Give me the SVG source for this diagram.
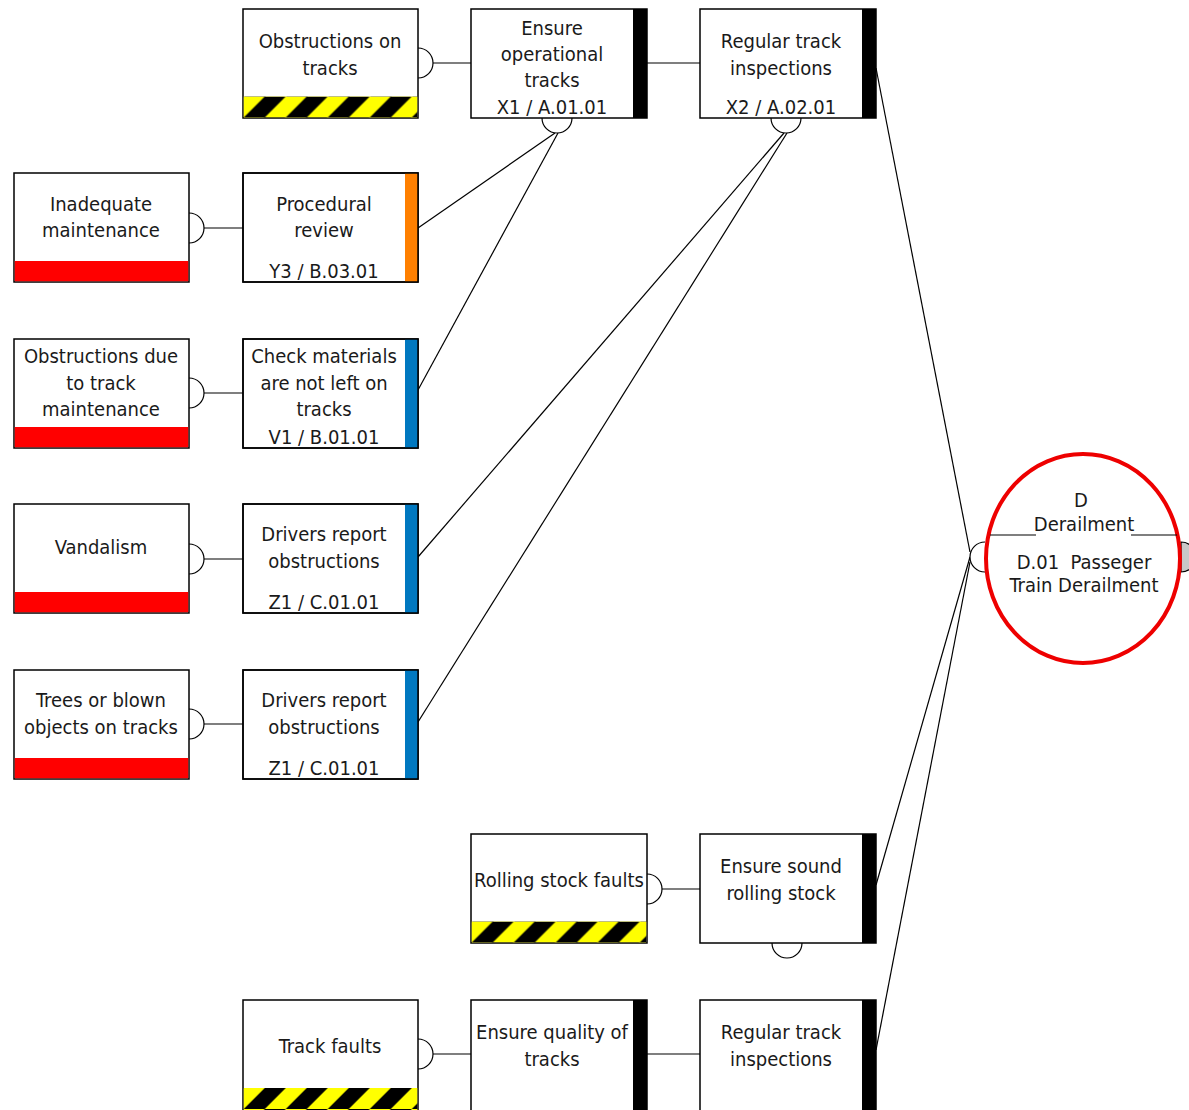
<svg xmlns="http://www.w3.org/2000/svg" width="1189" height="1110" viewBox="0 0 1189 1110">
<defs>
<pattern id="hazard" patternUnits="userSpaceOnUse" x="0" y="0" width="42" height="21">
<rect x="0" y="0" width="42" height="21" fill="#ffff00"/>
<polygon points="0,21 21,0 42,0 21,21" fill="#000000"/>
</pattern>
<style>
.box{fill:#fff;stroke:#000;stroke-width:1.5}
.t{font-family:"DejaVu Sans Condensed","DejaVu Sans",sans-serif;font-size:20px;fill:#1a1a1a;text-anchor:middle}
.ln{fill:none;stroke:#000;stroke-width:1.2}
.semi{fill:#fff;stroke:#000;stroke-width:1.2}
.red{fill:#ff0000}
.bk{fill:#000}
.hz{fill:url(#hazard)}
</style>
</defs>
<rect width="1189" height="1110" fill="#fff"/>
<g id="connectors">
<line class="ln" x1="433" y1="63" x2="471" y2="63"/>
<line class="ln" x1="647" y1="63" x2="700" y2="63"/>
<line class="ln" x1="204" y1="228" x2="243" y2="228"/>
<line class="ln" x1="204" y1="393" x2="243" y2="393"/>
<line class="ln" x1="204" y1="559" x2="243" y2="559"/>
<line class="ln" x1="204" y1="724" x2="243" y2="724"/>
<line class="ln" x1="662" y1="889" x2="700" y2="889"/>
<line class="ln" x1="433" y1="1054" x2="471" y2="1054"/>
<line class="ln" x1="647" y1="1054" x2="700" y2="1054"/>
<line class="ln" x1="418" y1="228" x2="555" y2="133"/>
<line class="ln" x1="418" y1="390" x2="558" y2="133"/>
<line class="ln" x1="418" y1="557" x2="784" y2="133"/>
<line class="ln" x1="418" y1="722" x2="787" y2="133"/>
<line class="ln" x1="876" y1="68" x2="970" y2="552"/>
<line class="ln" x1="876" y1="885" x2="970" y2="557"/>
<line class="ln" x1="876" y1="1050" x2="970" y2="562"/>
</g>
<g id="semicircles">
<path class="semi" d="M418 48 A15 15 0 0 1 418 78"/>
<path class="semi" d="M189 213 A15 15 0 0 1 189 243"/>
<path class="semi" d="M189 378 A15 15 0 0 1 189 408"/>
<path class="semi" d="M189 544 A15 15 0 0 1 189 574"/>
<path class="semi" d="M189 709 A15 15 0 0 1 189 739"/>
<path class="semi" d="M647 874 A15 15 0 0 1 647 904"/>
<path class="semi" d="M418 1039 A15 15 0 0 1 418 1069"/>
<path class="semi" d="M572 118 A15 15 0 0 1 542 118"/>
<path class="semi" d="M801 118 A15 15 0 0 1 771 118"/>
<path class="semi" d="M802 943 A15 15 0 0 1 772 943"/>
<path class="semi" d="M985 542 A15 15 0 0 0 985 572"/>
<path d="M1181 542 A15 15 0 0 1 1181 572 Z" fill="#c8c8c8" stroke="#000" stroke-width="1.2"/>
</g>
<g id="threat-obstructions-on-tracks">
<rect class="box" x="243" y="9" width="175" height="109"/>
<rect class="hz" x="0" y="0" width="173.5" height="21" transform="translate(243.75 96.5)"/>
<text class="t" x="330" y="48">Obstructions on</text>
<text class="t" x="330" y="75">tracks</text>
</g>
<g id="barrier-ensure-operational-tracks">
<rect class="box" x="471" y="9" width="176" height="109"/>
<rect class="bk" x="633" y="9" width="14" height="109"/>
<text class="t" x="552" y="35">Ensure</text>
<text class="t" x="552" y="61">operational</text>
<text class="t" x="552" y="87">tracks</text>
<text class="t" x="552" y="114">X1 / A.01.01</text>
</g>
<g id="barrier-regular-track-inspections-top">
<rect class="box" x="700" y="9" width="176" height="109"/>
<rect class="bk" x="862" y="9" width="14" height="109"/>
<text class="t" x="781" y="48">Regular track</text>
<text class="t" x="781" y="75">inspections</text>
<text class="t" x="781" y="114">X2 / A.02.01</text>
</g>
<g id="threat-inadequate-maintenance">
<rect class="box" x="14" y="173" width="175" height="109"/>
<rect class="red" x="14.75" y="261" width="173.5" height="20.25"/>
<text class="t" x="101" y="211">Inadequate</text>
<text class="t" x="101" y="237">maintenance</text>
</g>
<g id="barrier-procedural-review">
<rect class="box" x="243" y="173" width="175" height="109"/>
<rect x="405" y="173" width="13" height="109" fill="#ff8000"/>
<rect x="243" y="173" width="175" height="109" fill="none" stroke="#000" stroke-width="1.5"/>
<text class="t" x="324" y="211">Procedural</text>
<text class="t" x="324" y="237">review</text>
<text class="t" x="324" y="278">Y3 / B.03.01</text>
</g>
<g id="threat-obstructions-due-to-track-maintenance">
<rect class="box" x="14" y="339" width="175" height="109"/>
<rect class="red" x="14.75" y="427" width="173.5" height="20.25"/>
<text class="t" x="101" y="363">Obstructions due</text>
<text class="t" x="101" y="390">to track</text>
<text class="t" x="101" y="416">maintenance</text>
</g>
<g id="barrier-check-materials">
<rect class="box" x="243" y="339" width="175" height="109"/>
<rect x="405" y="339" width="13" height="109" fill="#0078c0"/>
<rect x="243" y="339" width="175" height="109" fill="none" stroke="#000" stroke-width="1.5"/>
<text class="t" x="324" y="363">Check materials</text>
<text class="t" x="324" y="390">are not left on</text>
<text class="t" x="324" y="416">tracks</text>
<text class="t" x="324" y="444">V1 / B.01.01</text>
</g>
<g id="threat-vandalism">
<rect class="box" x="14" y="504" width="175" height="109"/>
<rect class="red" x="14.75" y="592" width="173.5" height="20.25"/>
<text class="t" x="101" y="554">Vandalism</text>
</g>
<g id="barrier-drivers-report-1">
<rect class="box" x="243" y="504" width="175" height="109"/>
<rect x="405" y="504" width="13" height="109" fill="#0078c0"/>
<rect x="243" y="504" width="175" height="109" fill="none" stroke="#000" stroke-width="1.5"/>
<text class="t" x="324" y="541">Drivers report</text>
<text class="t" x="324" y="568">obstructions</text>
<text class="t" x="324" y="609">Z1 / C.01.01</text>
</g>
<g id="threat-trees">
<rect class="box" x="14" y="670" width="175" height="109"/>
<rect class="red" x="14.75" y="758" width="173.5" height="20.25"/>
<text class="t" x="101" y="707">Trees or blown</text>
<text class="t" x="101" y="734">objects on tracks</text>
</g>
<g id="barrier-drivers-report-2">
<rect class="box" x="243" y="670" width="175" height="109"/>
<rect x="405" y="670" width="13" height="109" fill="#0078c0"/>
<rect x="243" y="670" width="175" height="109" fill="none" stroke="#000" stroke-width="1.5"/>
<text class="t" x="324" y="707">Drivers report</text>
<text class="t" x="324" y="734">obstructions</text>
<text class="t" x="324" y="775">Z1 / C.01.01</text>
</g>
<g id="threat-rolling-stock-faults">
<rect class="box" x="471" y="834" width="176" height="109"/>
<rect class="hz" x="0" y="0" width="174.5" height="21" transform="translate(471.75 921.5)"/>
<text class="t" x="559" y="887">Rolling stock faults</text>
</g>
<g id="barrier-ensure-sound-rolling-stock">
<rect class="box" x="700" y="834" width="176" height="109"/>
<rect class="bk" x="862" y="834" width="14" height="109"/>
<text class="t" x="781" y="873">Ensure sound</text>
<text class="t" x="781" y="900">rolling stock</text>
</g>
<g id="threat-track-faults">
<rect class="box" x="243" y="1000" width="175" height="120"/>
<rect class="hz" x="0" y="0" width="173.5" height="21" transform="translate(243.75 1088)"/>
<rect class="hz" x="0" y="0" width="173.5" height="21" transform="translate(243.75 1109)"/>
<text class="t" x="330" y="1053">Track faults</text>
</g>
<g id="barrier-ensure-quality-of-tracks">
<rect class="box" x="471" y="1000" width="176" height="120"/>
<rect class="bk" x="633" y="1000" width="14" height="120"/>
<text class="t" x="552" y="1039">Ensure quality of</text>
<text class="t" x="552" y="1066">tracks</text>
</g>
<g id="barrier-regular-track-inspections-bottom">
<rect class="box" x="700" y="1000" width="176" height="120"/>
<rect class="bk" x="862" y="1000" width="14" height="120"/>
<text class="t" x="781" y="1039">Regular track</text>
<text class="t" x="781" y="1066">inspections</text>
</g>
<g id="top-event-derailment">
<ellipse cx="1083" cy="558.5" rx="97" ry="104.5" fill="#fff" stroke="#ee0000" stroke-width="4"/>
<line x1="990" y1="535" x2="1036" y2="535" stroke="#000" stroke-width="1.2"/>
<line x1="1131" y1="535" x2="1177" y2="535" stroke="#000" stroke-width="1.2"/>
<text class="t" x="1081" y="507">D</text>
<text class="t" x="1084" y="531">Derailment</text>
<text class="t" x="1084" y="569" xml:space="preserve">D.01  Passeger</text>
<text class="t" x="1084" y="592">Train Derailment</text>
</g>
</svg>
